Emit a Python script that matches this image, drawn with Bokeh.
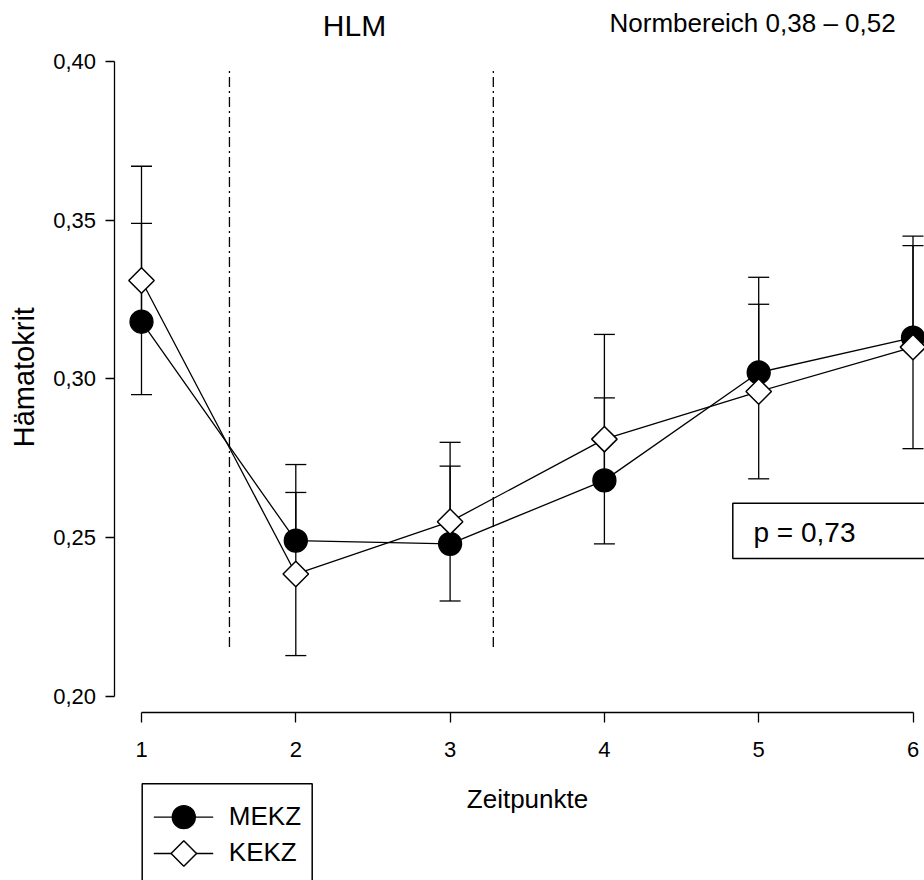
import numpy as np
from bokeh.plotting import figure
from bokeh.models import (Range1d, FixedTicker, Whisker, TeeHead, Label, BoxAnnotation,
                          ColumnDataSource)
from bokeh.embed import file_html
from bokeh.resources import INLINE

# Hematocrit per time point, mean and standard deviation for both groups
timepoints = [1, 2, 3, 4, 5, 6]
mekz_mean = [0.318, 0.249, 0.248, 0.268, 0.302, 0.313]
mekz_sd = [0.031, 0.024, 0.0245, 0.026, 0.030, 0.032]
kekz_mean = [0.331, 0.2385, 0.255, 0.281, 0.296, 0.310]
kekz_sd = [0.036, 0.0257, 0.025, 0.033, 0.0275, 0.032]
series_names = ["MEKZ", "KEKZ"]

x_ticks = [1, 2, 3, 4, 5, 6]
y_ticks = [0.20, 0.25, 0.30, 0.35, 0.40]
y_tick_labels = ["0,20", "0,25", "0,30", "0,35", "0,40"]

# boundaries between treatment phases (dash-dot markers)
phase_bounds = [1.57, 3.28]
phase_span = (0.2155, 0.3975)

title_text = "HLM"
norm_text = "Normbereich 0,38 \u2013 0,52"
p_text = "p = 0,73"
x_label = "Zeitpunkte"
y_label = "H\u00e4matokrit"

FONT = "Liberation Sans"
W, H = 924, 880

# pixel layout of the canvas: x=1 at 141 px, x=6 at 912.5 px; y=0.40 at 61 px, y=0.20 at 695.7 px
XPX1, XPX6 = 141.0, 912.5
YPX40, YPX20 = 61.0, 695.7
xs = (XPX6 - XPX1) / 5.0
ys = (YPX20 - YPX40) / 0.20


def px2x(px):
    return 1 + (px - XPX1) / xs


def px2y(py):
    return 0.40 - (py - YPX40) / ys


def text_label(text, px, py, size, align="left", angle=0.0):
    """Place a label whose baseline passes through canvas pixel (px, py)."""
    shift = 0.4 * size  # renderer puts the glyph baseline this far past the anchor
    dx, dy = np.sin(angle) * shift, np.cos(angle) * shift
    return Label(x=px2x(px - dx), y=px2y(py - dy), text=text, text_font=FONT,
                 text_font_size=f"{size}px", text_color="black", text_align=align,
                 text_baseline="alphabetic", angle=angle)


p = figure(width=W, height=H, output_backend="svg", toolbar_location=None, title=None,
           x_range=Range1d(px2x(0), px2x(W)), y_range=Range1d(px2y(H), px2y(0)),
           min_border=0, background_fill_color="white", border_fill_color="white")
p.outline_line_color = None
p.xgrid.visible = False
p.ygrid.visible = False

# offset axes, SigmaPlot style
for ax in (p.xaxis[0], p.yaxis[0]):
    ax.axis_line_width = 1.3
    ax.major_tick_line_width = 1.3
    ax.major_tick_in = 0
    ax.minor_tick_line_color = None
    ax.major_label_text_font = FONT
    ax.major_label_text_font_size = "22px"
    ax.major_label_text_color = "black"
    ax.axis_line_color = "black"
    ax.major_tick_line_color = "black"

p.xaxis.fixed_location = px2y(712)
p.yaxis.fixed_location = px2x(113.5)
p.xaxis.bounds = (1, 6)
p.yaxis.bounds = (0.20, 0.40)
p.xaxis.ticker = FixedTicker(ticks=x_ticks)
p.yaxis.ticker = FixedTicker(ticks=y_ticks)
p.yaxis.major_label_overrides = {t: s for t, s in zip(y_ticks, y_tick_labels)}
p.xaxis.major_tick_out = 10
p.yaxis.major_tick_out = 9
p.xaxis.major_label_standoff = 19
p.yaxis.major_label_standoff = 9

# phase separators
p.segment(x0=phase_bounds, y0=[phase_span[0]] * 2, x1=phase_bounds, y1=[phase_span[1]] * 2,
          line_color="black", line_width=1.3, line_dash="10 4 2 4")

# error bars: MEKZ upward only, KEKZ both directions
m = np.array(mekz_mean)
k = np.array(kekz_mean)
src_m_err = ColumnDataSource(dict(x=timepoints, upper=m + np.array(mekz_sd), lower=m))
src_k_err = ColumnDataSource(dict(x=timepoints, upper=k + np.array(kekz_sd), lower=k - np.array(kekz_sd)))


def tee():
    return TeeHead(size=21, line_width=1.3, line_color="black")


p.add_layout(Whisker(source=src_m_err, base="x", upper="upper", lower="lower", dimension="height",
                     line_color="black", line_width=1.3, level="underlay",
                     upper_head=tee(), lower_head=None))
p.add_layout(Whisker(source=src_k_err, base="x", upper="upper", lower="lower", dimension="height",
                     line_color="black", line_width=1.3, level="underlay",
                     upper_head=tee(), lower_head=tee()))

src_m = ColumnDataSource(dict(x=timepoints, y=mekz_mean))
src_k = ColumnDataSource(dict(x=timepoints, y=kekz_mean))

MEKZ_STYLE = dict(marker="circle", size=23, fill_color="black", line_color="black", line_width=1.3)
KEKZ_STYLE = dict(marker="square", size=18, angle=np.pi / 4, fill_color="white",
                  line_color="black", line_width=1.5)

p.line("x", "y", source=src_m, line_color="black", line_width=1.3)
p.line("x", "y", source=src_k, line_color="black", line_width=1.3)
p.scatter("x", "y", source=src_m, **MEKZ_STYLE)
p.scatter("x", "y", source=src_k, **KEKZ_STYLE)

# legend box below the axis: border, sample line + marker, and series name per row
LEG_LEFT, LEG_RIGHT, LEG_TOP = 141.7, 311.7, 783.3
LEG_ROWS = [816.7, 853.0]
LEG_LINE = (153.3, 212.7)
LEG_MARK_X = 183.3
LEG_TEXT_X = 228.3
p.add_layout(BoxAnnotation(left=px2x(LEG_LEFT), right=px2x(LEG_RIGHT), top=px2y(LEG_TOP),
                           bottom=px2y(H + 30), fill_color="white", fill_alpha=1.0,
                           line_color="black", line_alpha=1.0, line_width=1.5, level="underlay"))
leg_y = [px2y(r) for r in LEG_ROWS]
p.segment(x0=[px2x(LEG_LINE[0])] * 2, x1=[px2x(LEG_LINE[1])] * 2, y0=leg_y, y1=leg_y,
          line_color="black", line_width=1.3)
p.scatter([px2x(LEG_MARK_X)], [leg_y[0]], **MEKZ_STYLE)
p.scatter([px2x(LEG_MARK_X)], [leg_y[1]], **KEKZ_STYLE)
for name, row in zip(series_names, LEG_ROWS):
    p.add_layout(text_label(name, LEG_TEXT_X, row + 9.3, 26))

# statistics box
p.add_layout(BoxAnnotation(left=px2x(732.3), right=px2x(990), top=px2y(502.7), bottom=px2y(558),
                           fill_color=None, fill_alpha=0, line_color="black", line_alpha=1.0,
                           line_width=1.5, level="annotation"))
p.add_layout(text_label(p_text, 753, 543.3, 28))

# titles and axis labels
p.add_layout(text_label(title_text, 354, 37.3, 30, align="center"))
p.add_layout(text_label(norm_text, 609, 33.3, 26))
p.add_layout(text_label(x_label, 527, 809, 26, align="center"))
p.add_layout(text_label(y_label, 35, 376.7, 29, align="center", angle=np.pi / 2))

open("out.html", "w").write(file_html(p, INLINE))
